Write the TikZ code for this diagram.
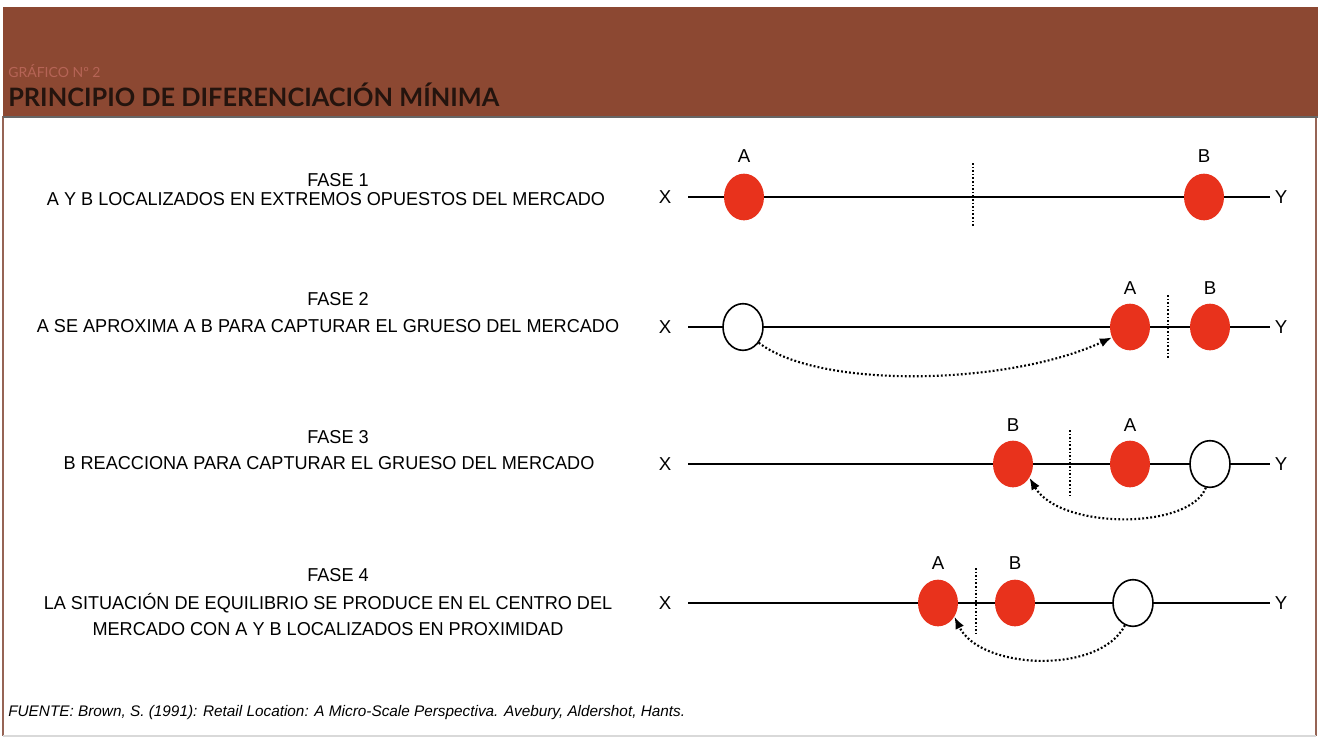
\documentclass[tikz,border=0pt]{standalone}
\usepackage{fontspec}
\setmainfont{Liberation Sans}
\newfontfamily\titlefont{Lato}
\newfontfamily\descfont[FakeStretch=0.97]{Liberation Sans}
\usetikzlibrary{shapes.geometric,arrows.meta}
\definecolor{hdr}{RGB}{140,72,50}
\definecolor{hdrtxt}{RGB}{36,20,14}
\definecolor{hdrsub}{RGB}{182,100,86}
\definecolor{frame}{RGB}{150,100,85}
\definecolor{dotred}{RGB}{232,50,28}
\tikzset{
  x=0.75pt, y=-0.75pt,
  market/.style={line width=1.5pt, black},
  firm/.style={ellipse, fill=dotred, draw=none, minimum width=30pt, minimum height=35pt, inner sep=0pt},
  empty/.style={ellipse, fill=white, draw=black, line width=1.2pt, minimum width=30pt, minimum height=35pt, inner sep=0pt},
  divider/.style={line width=0.9pt, dash pattern=on 1.2pt off 1.5pt},
  move/.style={line width=1.6pt, dash pattern=on 1.4pt off 1.6pt, -{Latex[length=9pt,width=7pt]}},
  lbl/.style={font=\fontsize{14}{16}\selectfont, inner sep=0pt},
  phase/.style={font=\descfont\fontsize{14}{16}\selectfont, inner sep=0pt},
  desc/.style={font=\descfont\fontsize{14}{19.5}\selectfont, inner sep=0pt, align=center},
}
\begin{document}
\begin{tikzpicture}
\useasboundingbox (0,0) rectangle (1322,740);
\fill[white] (0,0) rectangle (1322,740);
% header
\fill[hdr] (3,7) rectangle (1318,116);
\draw[frame, line width=1pt] (3,116) -- (3,736);
\draw[frame, line width=1pt] (1316,116) -- (1316,736);
\draw[black!60, line width=1.2pt] (3,117) -- (1318,117);
\draw[black!15, line width=0.8pt] (3,736) -- (1316,736);
\node[anchor=west, text=hdrsub, inner sep=0pt, font=\titlefont\fontsize{10.5}{12}\selectfont] (gtag) at (8,71) {GRÁFICO Nº 2};
\node[anchor=west, text=hdrtxt, inner sep=0pt, font=\titlefont\bfseries\fontsize{19}{21}\selectfont] (gtitle) at (8,95) {PRINCIPIO DE DIFERENCIACIÓN MÍNIMA};

% phase texts
\node[phase] (f1) at (338,180) {FASE 1};
\node[desc] (d1) at (326,199) {A Y B LOCALIZADOS EN EXTREMOS OPUESTOS DEL MERCADO};
\node[phase] (f2) at (338,299) {FASE 2};
\node[desc] (d2) at (328,326) {A SE APROXIMA A B PARA CAPTURAR EL GRUESO DEL MERCADO};
\node[phase] (f3) at (338,437) {FASE 3};
\node[desc] (d3) at (329,463) {B REACCIONA PARA CAPTURAR EL GRUESO DEL MERCADO};
\node[phase] (f4) at (338,575) {FASE 4};
\node[desc] (d4) at (328,614) {LA SITUACIÓN DE EQUILIBRIO SE PRODUCE EN EL CENTRO DEL\\MERCADO CON A Y B LOCALIZADOS EN PROXIMIDAD};

% row 1
\node[lbl] (x1) at (665,197) {X};
\node[lbl] (y1) at (1281,197) {Y};
\coordinate (l1a) at (688,197);
\coordinate (l1b) at (1270,197);
\draw[market] (l1a) -- (l1b);
\node[firm] (a1) at (744,197) {};
\node[firm] (b1) at (1204,197) {};
\node[lbl] (la1) at (744,156) {A};
\node[lbl] (lb1) at (1204,156) {B};
\coordinate (v1a) at (973,163);
\coordinate (v1b) at (973,226);
\draw[divider] (v1a) -- (v1b);

% row 2
\node[lbl] (x2) at (665,327) {X};
\node[lbl] (y2) at (1281,327) {Y};
\coordinate (l2a) at (688,327);
\coordinate (l2b) at (1270,327);
\draw[market] (l2a) -- (l2b);
\node[empty] (o2) at (743,327) {};
\node[firm] (a2) at (1130,327) {};
\node[firm] (b2) at (1210,327) {};
\node[lbl] (la2) at (1130,288) {A};
\node[lbl] (lb2) at (1210,288) {B};
\coordinate (v2a) at (1168,295);
\coordinate (v2b) at (1168,358);
\draw[divider] (v2a) -- (v2b);
\draw[move] (o2.-45) .. controls (820,390) and (1010,385) .. (a2.-150);

% row 3
\node[lbl] (x3) at (665,464) {X};
\node[lbl] (y3) at (1281,464) {Y};
\coordinate (l3a) at (688,464);
\coordinate (l3b) at (1270,464);
\draw[market] (l3a) -- (l3b);
\node[firm] (b3) at (1013,464) {};
\node[firm] (a3) at (1130,464) {};
\node[empty] (o3) at (1210,464) {};
\node[lbl] (lb3) at (1013,425) {B};
\node[lbl] (la3) at (1130,425) {A};
\coordinate (v3a) at (1070,430);
\coordinate (v3b) at (1070,495);
\draw[divider] (v3a) -- (v3b);
\draw[move] (o3.-100) .. controls (1190,530) and (1060,530) .. (b3.-40);

% row 4
\node[lbl] (x4) at (665,603) {X};
\node[lbl] (y4) at (1281,603) {Y};
\coordinate (l4a) at (688,603);
\coordinate (l4b) at (1270,603);
\draw[market] (l4a) -- (l4b);
\node[firm] (a4) at (938,603) {};
\node[firm] (b4) at (1015,603) {};
\node[empty] (o4) at (1133,603) {};
\node[lbl] (la4) at (938,563) {A};
\node[lbl] (lb4) at (1015,563) {B};
\coordinate (v4a) at (976,568);
\coordinate (v4b) at (976,635);
\draw[divider] (v4a) -- (v4b);
\draw[move] (o4.-110) .. controls (1100,675) and (980,670) .. (a4.-40);

% source
\node[anchor=west, inner sep=0pt, font=\itshape\fontsize{11.5}{13}\selectfont] (src) at (8,713) {FUENTE: Brown, S. (1991): Retail Location: A Micro-Scale Perspectiva. Avebury, Aldershot, Hants.};
\end{tikzpicture}
\end{document}
